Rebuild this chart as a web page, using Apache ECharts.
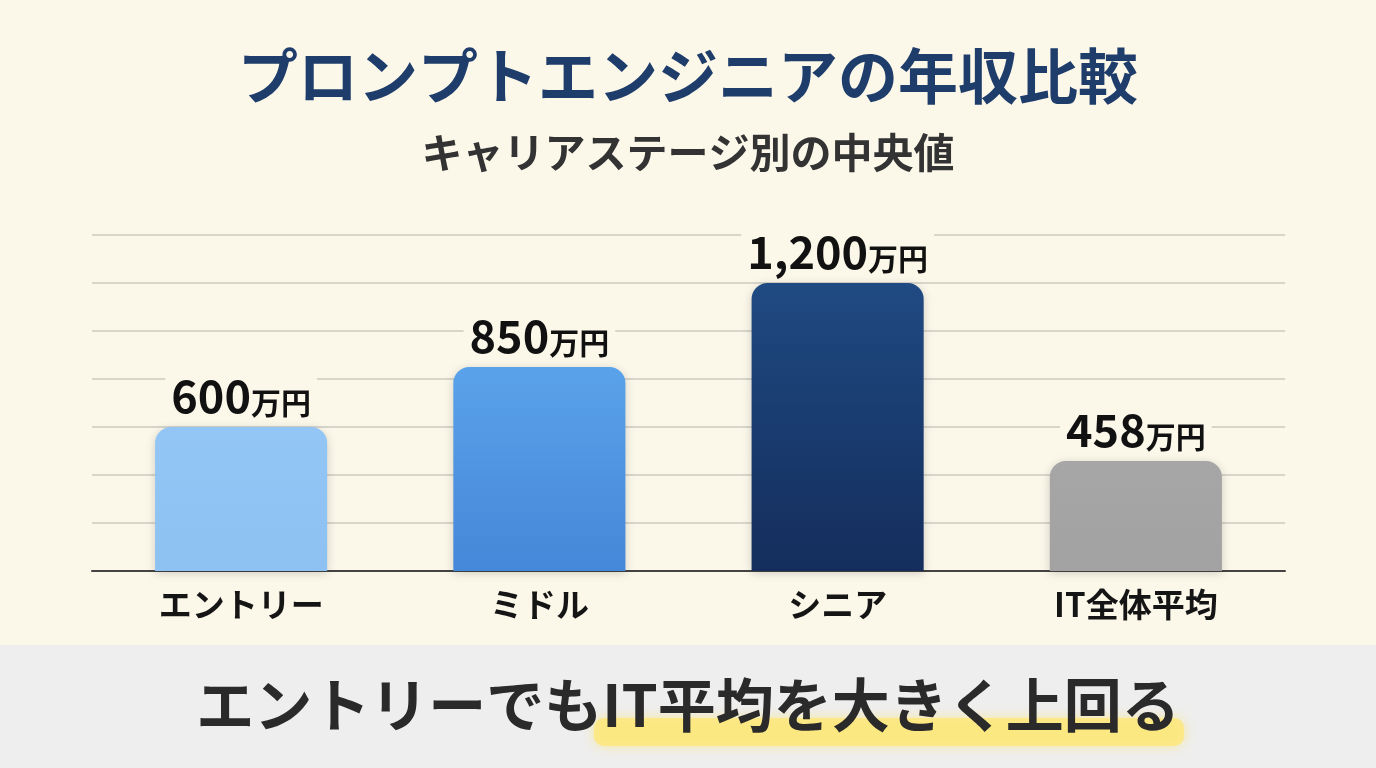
<!DOCTYPE html>
<html>
<head>
<meta charset="utf-8">
<script src="https://cdn.jsdelivr.net/npm/echarts@6/dist/echarts.min.js"></script>
<style>
html,body{margin:0;padding:0;background:#fbf8ea;}
#c{width:1376px;height:768px;}
</style>
</head>
<body>
<div id="c"></div>
<script>
const categories = ['エントリー', 'ミドル', 'シニア', 'IT全体平均'];
const salaries = [600, 850, 1200, 458];
const unit = '万円';
const titleText = 'プロンプトエンジニアの年収比較';
const subtitleText = 'キャリアステージ別の中央値';
const footerText = 'エントリーでもIT平均を大きく上回る';
const barTopColors = ['#93c6f5', '#5aa2ea', '#1f4a82', '#a6a6a6'];
const barBottomColors = ['#8cc1f2', '#4587d8', '#142d5c', '#a2a2a2'];

const FONT = '"Noto Sans CJK JP", "Noto Sans", sans-serif';
const BG = '#fbf8ea';

const chart = echarts.init(document.getElementById('c'));
chart.setOption({
  backgroundColor: BG,
  animation: false,
  title: [
    { text: titleText, left: 'center', top: 41,
      textStyle: { fontFamily: FONT, fontSize: 60, fontWeight: 'bold', color: '#1f3d6b' } },
    { text: subtitleText, left: 'center', top: 127,
      textStyle: { fontFamily: FONT, fontSize: 41, fontWeight: 'bold', color: '#333333' } }
  ],
  grid: { left: 92, right: 91, top: 235, bottom: 197 },
  xAxis: {
    type: 'category',
    data: categories,
    axisLine: { lineStyle: { color: '#444444', width: 2 } },
    axisTick: { show: false },
    axisLabel: { margin: 17, fontFamily: FONT, fontSize: 33, fontWeight: 'bold', color: '#151515' }
  },
  yAxis: {
    type: 'value', min: 0, max: 1400, interval: 200,
    axisLabel: { show: false }, axisLine: { show: false }, axisTick: { show: false },
    splitLine: { lineStyle: { color: '#d8d5cb', width: 2 } }
  },
  series: [{
    type: 'bar',
    barWidth: '57.7%',
    data: salaries.map((v, i) => ({
      value: v,
      itemStyle: {
        color: new echarts.graphic.LinearGradient(0, 0, 0, 1, [
          { offset: 0, color: barTopColors[i] },
          { offset: 1, color: barBottomColors[i] }
        ]),
        borderRadius: [16, 16, 0, 0],
        shadowBlur: 10, shadowColor: 'rgba(0,0,0,0.18)', shadowOffsetY: 2
      }
    })),
    label: {
      show: true, position: 'top', distance: 9,
      backgroundColor: BG, padding: [0, 6, 0, 6],
      formatter: p => '{a|' + p.value.toLocaleString('en-US') + '}{b|' + unit + '}',
      rich: {
        a: { fontFamily: FONT, fontSize: 45, fontWeight: 'bold', color: '#111111', verticalAlign: 'bottom', lineHeight: 50 },
        b: { fontFamily: FONT, fontSize: 30, fontWeight: 'bold', color: '#111111', verticalAlign: 'bottom', lineHeight: 44 }
      }
    }
  }],
  graphic: [
    { type: 'rect', left: 0, top: 645, z: -1, shape: { width: 1376, height: 123 },
      style: { fill: '#eeeeee' } },
    { type: 'rect', left: 594, top: 718, z: 0, shape: { width: 590, height: 28, r: 10 },
      style: { fill: 'rgba(253,232,125,0.85)', shadowBlur: 12, shadowColor: 'rgba(253,232,125,0.9)' } },
    { type: 'text', left: 'center', top: 676, z: 10,
      style: { text: footerText, fontFamily: FONT, fontSize: 58, fontWeight: 'bold', fill: '#2a2a2a' } }
  ]
});
</script>
</body>
</html>
